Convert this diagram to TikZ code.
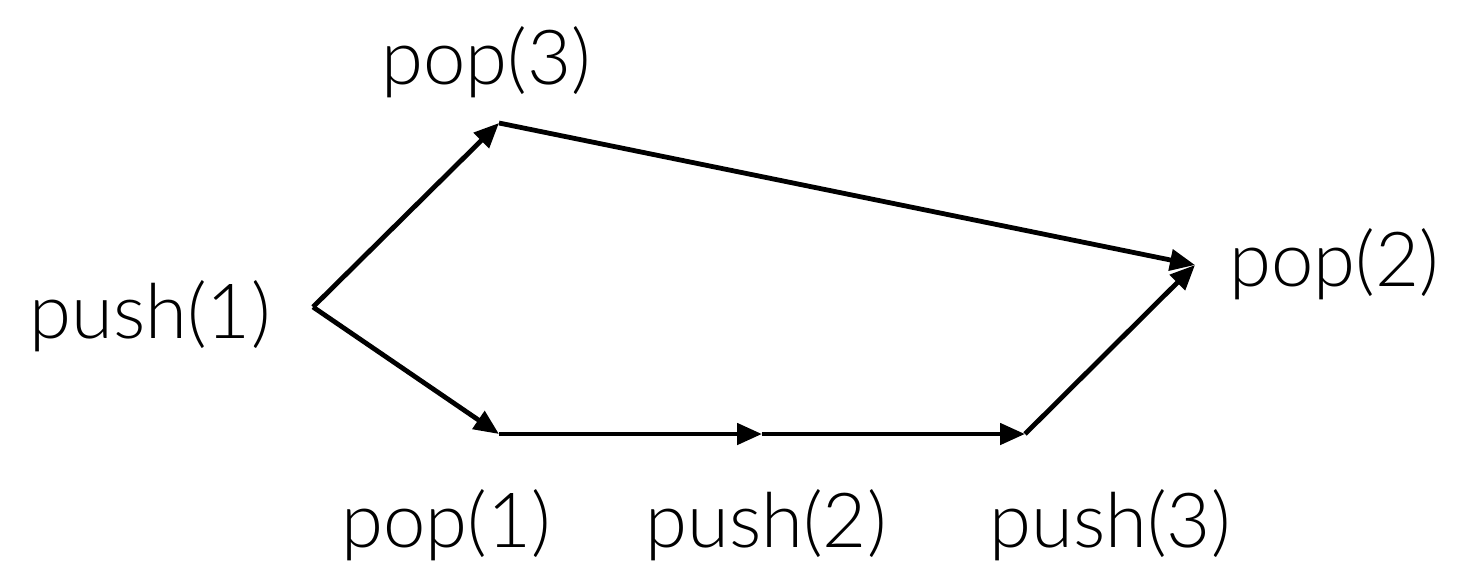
\documentclass[tikz,border=0pt]{standalone}
\usepackage{fontspec}
\setmainfont{Lato Light}
\usetikzlibrary{arrows.meta}
\begin{document}
\begin{tikzpicture}[x=0.5pt,y=-0.5pt,
  edge/.style={line width=2.4pt,-{Triangle[length=12.5pt,width=10.5pt]}},
  lbl/.style={font=\fontsize{38}{42}\selectfont,inner sep=0pt}]
\useasboundingbox (0,0) rectangle (1459,563);
% vertices of the graph
\coordinate (v1) at (313,307);
\coordinate (v3) at (499,123);
\coordinate (v2) at (1195,265);
\coordinate (u1) at (499,434);
\coordinate (w2) at (762,434);
\coordinate (w3) at (1025,434);
% operation labels
\node[lbl] (l1) at (150,316) {push(1)};
\node[lbl] (l3) at (486,62) {pop(3)};
\node[lbl] (l2) at (1334,264) {pop(2)};
\node[lbl] (m1) at (446,525) {pop(1)};
\node[lbl] (m2) at (766,525) {push(2)};
\node[lbl] (m3) at (1110,525) {push(3)};
% edges
\draw[edge] (v1) -- (v3);
\draw[edge] (v3) -- (v2);
\draw[edge] (v1) -- (u1);
\draw[edge] (u1) -- (w2);
\draw[edge] (w2) -- (w3);
\draw[edge] (w3) -- (v2);
\end{tikzpicture}
\end{document}
